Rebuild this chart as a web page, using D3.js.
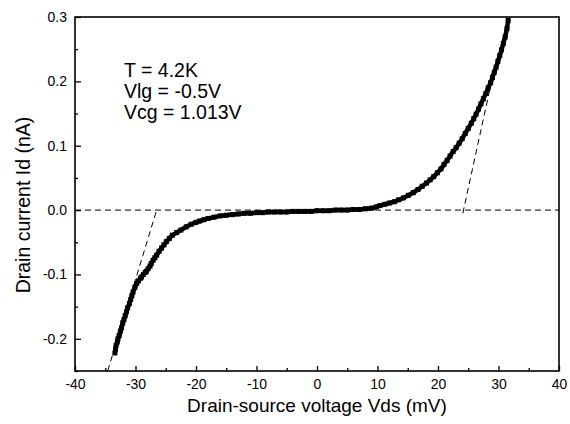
<!DOCTYPE html>
<html>
<head>
<meta charset="utf-8">
<script src="https://cdn.jsdelivr.net/npm/d3@7"></script>
<style>
body { margin: 0; background: #fff; }
text { font-family: "Liberation Sans", Arial, sans-serif; fill: #000; }
</style>
</head>
<body>
<svg id="svg"></svg>
<script>
var width = 570, height = 424;
var margin = {top: 17, bottom: 53, right: 11, left: 75};

// measured I-V curve, Vds in mV, Id in nA
var vds = [-33.4, -33.3, -33.2, -33.0, -32.9, -32.7, -32.5, -32.3, -32.1, -31.9, -31.7, -31.5, -31.3, -31.0, -30.8,
	-30.6, -30.4, -30.1, -29.8, -29.5, -29.2, -29.0, -28.7, -28.4, -28.2, -27.9, -27.6, -27.4, -27.1, -26.8,
	-26.5, -26.1, -25.7, -25.3, -24.9, -24.4, -23.9, -23.2, -22.5, -21.6, -20.8, -20.0, -19.4, -18.7, -18.0,
	-17.0, -16.0, -15.0, -14.0, -13.0, -12.0, -11.0, -10.0, -9.0, -8.0, -7.0, -6.0, -5.0, -4.0, -3.0,
	-2.0, -1.0, 0.0, 1.0, 2.0, 3.0, 4.0, 5.0, 6.0, 7.0, 8.0, 9.0, 9.8, 10.4, 11.2,
	12.0, 12.8, 13.5, 14.3, 15.1, 15.9, 16.7, 17.4, 18.1, 18.7, 19.3, 19.9, 20.5, 21.0, 21.5,
	22.0, 22.5, 23.0, 23.5, 24.0, 24.5, 25.0, 25.5, 25.9, 26.3, 26.7, 27.1, 27.5, 27.9, 28.3,
	28.7, 29.0, 29.3, 29.6, 29.9, 30.2, 30.5, 30.8, 31.1, 31.4, 31.6];
var id = [-0.222, -0.216, -0.210, -0.205, -0.200, -0.195, -0.188, -0.183, -0.175, -0.170, -0.164, -0.158, -0.152, -0.145, -0.139,
	-0.133, -0.127, -0.120, -0.114, -0.110, -0.106, -0.104, -0.100, -0.097, -0.095, -0.091, -0.087, -0.083, -0.078, -0.074,
	-0.070, -0.064, -0.059, -0.054, -0.049, -0.044, -0.039, -0.035, -0.031, -0.026, -0.022, -0.019, -0.017, -0.015, -0.013,
	-0.011, -0.009, -0.008, -0.007, -0.006, -0.005, -0.005, -0.004, -0.004, -0.003, -0.003, -0.003, -0.003, -0.002, -0.002,
	-0.002, -0.002, -0.001, -0.001, -0.001, 0.000, 0.000, 0.000, 0.001, 0.001, 0.002, 0.003, 0.005, 0.007, 0.009,
	0.011, 0.013, 0.016, 0.019, 0.023, 0.027, 0.032, 0.037, 0.042, 0.047, 0.052, 0.058, 0.064, 0.071, 0.077,
	0.084, 0.091, 0.097, 0.104, 0.111, 0.119, 0.127, 0.135, 0.142, 0.149, 0.157, 0.165, 0.173, 0.181, 0.190,
	0.198, 0.206, 0.214, 0.222, 0.231, 0.240, 0.249, 0.259, 0.269, 0.282, 0.295];

// guide lines (dashed)
var zeroLine = [[-40, 0], [40, 0]];
var leftTangent = [[-34.6, -0.25], [-26.5, 0]];
var rightTangent = [[24.1, -0.005], [29.2, 0.215]];

var xMajor = [-40, -30, -20, -10, 0, 10, 20, 30, 40];
var xMinor = [-35, -25, -15, -5, 5, 15, 25, 35];
var yMajor = [-0.2, -0.1, 0.0, 0.1, 0.2, 0.3];
var yMinor = [-0.25, -0.15, -0.05, 0.05, 0.15, 0.25];

var notes = ["T = 4.2K", "Vlg = -0.5V", "Vcg = 1.013V"];

var svg = d3.select("#svg")
	.attr("width", width)
	.attr("height", height);

var x = d3.scaleLinear()
	.domain([-40, 40])
	.range([margin.left, width - margin.right]);

var y = d3.scaleLinear()
	.domain([-0.25, 0.3])
	.range([height - margin.bottom, margin.top]);

var hyphen = function(f) { return function(d) { return f(d).replace("\u2212", "-"); }; };

// x axis
svg.append("g")
	.attr("transform", "translate(0," + (height - margin.bottom) + ")")
	.call(d3.axisBottom(x).tickValues(xMajor).tickSize(-5).tickPadding(8).tickFormat(hyphen(d3.format("d"))))
	.call(function(g) { g.select(".domain").remove(); })
	.call(function(g) { g.selectAll("text").attr("font-size", 14).attr("font-family", "Liberation Sans, Arial, sans-serif"); })
	.call(function(g) { g.selectAll("line").attr("stroke-width", 1.3); });

svg.append("g")
	.attr("transform", "translate(0," + (height - margin.bottom) + ")")
	.call(d3.axisBottom(x).tickValues(xMinor).tickSize(-3).tickFormat(""))
	.call(function(g) { g.select(".domain").remove(); })
	.call(function(g) { g.selectAll("line").attr("stroke-width", 1.3); });

// y axis
svg.append("g")
	.attr("transform", "translate(" + margin.left + ",0)")
	.call(d3.axisLeft(y).tickValues(yMajor).tickSize(-6).tickPadding(8).tickFormat(hyphen(d3.format(".1f"))))
	.call(function(g) { g.select(".domain").remove(); })
	.call(function(g) { g.selectAll("text").attr("font-size", 14).attr("font-family", "Liberation Sans, Arial, sans-serif"); })
	.call(function(g) { g.selectAll("line").attr("stroke-width", 1.3); });

svg.append("g")
	.attr("transform", "translate(" + margin.left + ",0)")
	.call(d3.axisLeft(y).tickValues(yMinor).tickSize(-3).tickFormat(""))
	.call(function(g) { g.select(".domain").remove(); })
	.call(function(g) { g.selectAll("line").attr("stroke-width", 1.3); });

// frame
svg.append("rect")
	.attr("x", x(-40))
	.attr("y", y(0.3))
	.attr("width", x(40) - x(-40))
	.attr("height", y(-0.25) - y(0.3))
	.attr("fill", "none")
	.attr("stroke", "#000")
	.attr("stroke-width", 1.6);

var line = d3.line()
	.x(function(d) { return x(d[0]); })
	.y(function(d) { return y(d[1]); });

[zeroLine, leftTangent, rightTangent].forEach(function(seg) {
	svg.append("path")
		.attr("d", line(seg))
		.attr("fill", "none")
		.attr("stroke", "#000")
		.attr("stroke-width", 1)
		.attr("stroke-dasharray", "6,4");
});

// data
var data = vds.map(function(v, i) { return [v, id[i]]; });

svg.append("path")
	.attr("d", line(data))
	.attr("fill", "none")
	.attr("stroke", "#000")
	.attr("stroke-width", 4.5);

svg.append("g")
	.selectAll("rect")
	.data(data)
	.enter()
	.append("rect")
	.attr("x", function(d) { return x(d[0]) - 2.5; })
	.attr("y", function(d) { return y(d[1]) - 2.5; })
	.attr("width", 5)
	.attr("height", 5)
	.attr("fill", "#000");

// annotation
svg.append("g")
	.selectAll("text")
	.data(notes)
	.enter()
	.append("text")
	.attr("x", 124)
	.attr("y", function(d, i) { return 76.5 + i * 21.3; })
	.attr("font-size", 19.5)
	.text(function(d) { return d; });

// axis labels
svg.append("text")
	.attr("x", (x(-40) + x(40)) / 2)
	.attr("y", 412)
	.attr("font-size", 19)
	.style("text-anchor", "middle")
	.text("Drain-source voltage Vds (mV)");

svg.append("text")
	.attr("transform", "translate(30," + 205 + ") rotate(-90)")
	.attr("font-size", 19.5)
	.style("text-anchor", "middle")
	.text("Drain current Id (nA)");
</script>
</body>
</html>
